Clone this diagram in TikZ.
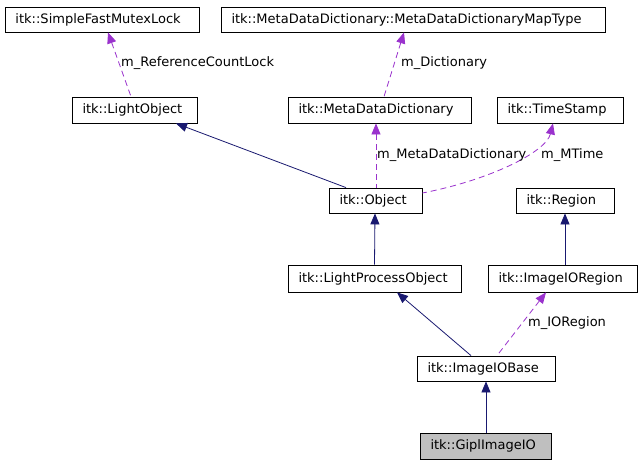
\documentclass[tikz,border=0pt]{standalone}
\usepackage{fontspec}
\setmainfont{DejaVu Sans}
\usetikzlibrary{arrows.meta}
\definecolor{navyedge}{HTML}{191970}
\definecolor{purpedge}{HTML}{9A32CD}
\tikzset{
  cls/.style={draw, line width=0.8pt, minimum height=25pt, inner ysep=0pt, inner xsep=10.5pt, align=left, text width=#1, font=\fontsize{13}{15}\selectfont},
  inh/.style={navyedge, line width=0.8pt, {Triangle[length=11pt,width=9pt]}-},
  use/.style={purpedge, line width=0.8pt, dash pattern=on 6pt off 4pt, {Triangle[length=11pt,width=9pt]}-},
  lbl/.style={anchor=west, inner sep=0pt, font=\fontsize{13}{15}\selectfont}
}
\begin{document}
\begin{tikzpicture}[x=1pt,y=-1pt]
\useasboundingbox[fill=white] (0,0) rectangle (641,464);
\node[cls=173pt] (sfml) at (102,19.5) {itk::SimpleFastMutexLock};
\node[cls=363pt] (mdmt) at (413,19.5) {itk::MetaDataDictionary::MetaDataDictionaryMapType};
\node[cls=104pt, minimum height=26pt] (lo) at (134.5,110) {itk::LightObject};
\node[cls=162pt, minimum height=26pt] (mdd) at (379.5,110) {itk::MetaDataDictionary};
\node[cls=105pt, minimum height=26pt] (ts) at (560,110) {itk::TimeStamp};
\node[cls=72pt] (obj) at (375.5,200.5) {itk::Object};
\node[cls=77pt] (reg) at (565,200.5) {itk::Region};
\node[cls=152pt, minimum height=27pt] (lpo) at (374.5,278.5) {itk::LightProcessObject};
\node[cls=128pt, minimum height=27pt] (ioreg) at (562.5,278.5) {itk::ImageIORegion};
\node[cls=117pt] (iob) at (486,368.5) {itk::ImageIOBase};
\node[cls=110pt, minimum height=26pt, fill=black!25] (gipl) at (485.5,446) {itk::GiplImageIO};

\draw[use] ([xshift=6pt]sfml.south) -- ([xshift=-3.5pt]lo.north);
\draw[use] ([xshift=-9pt]mdmt.south) -- ([xshift=4.5pt]mdd.north);
\draw[inh] ([xshift=41.5pt]lo.south) -- ([xshift=-29.5pt]obj.north);
\draw[use] ([xshift=-3.5pt]mdd.south) -- ([xshift=0.5pt]obj.north);
\draw[use] ([xshift=-7pt]ts.south) .. controls (546,152) and (490,180) .. ([yshift=7.5pt]obj.east);
\draw[inh] ([xshift=-0.5pt]obj.south) -- (lpo.north);
\draw[inh] (reg.south) -- ([xshift=2.5pt]ioreg.north);
\draw[inh] ([xshift=22.5pt]lpo.south) -- ([xshift=-15pt]iob.north);
\draw[use] ([xshift=-16.5pt]ioreg.south) -- ([xshift=11pt]iob.north);
\draw[inh] (iob.south) -- ([xshift=0.5pt]gipl.north);

\node[lbl] (l1) at (121,63) {m\_ReferenceCountLock};
\node[lbl] (l2) at (401,63) {m\_Dictionary};
\node[lbl] (l3) at (377,155) {m\_MetaDataDictionary};
\node[lbl] (l4) at (541,155) {m\_MTime};
\node[lbl] (l5) at (528,323) {m\_IORegion};
\end{tikzpicture}
\end{document}
